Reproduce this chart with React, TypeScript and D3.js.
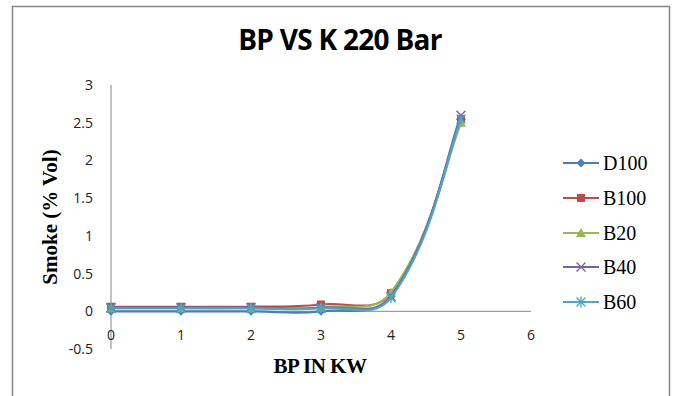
import React from "react";
import * as d3 from "d3";

const xValues = [0, 1, 2, 3, 4, 5];
const seriesNames = ["D100", "B100", "B20", "B40", "B60"];
const D100 = [0, 0, 0, 0, 0.2, 2.55];
const B100 = [0.06, 0.06, 0.06, 0.09, 0.24, 2.55];
const B20 = [0.04, 0.04, 0.04, 0.05, 0.25, 2.5];
const B40 = [0.05, 0.05, 0.05, 0.05, 0.2, 2.6];
const B60 = [0.04, 0.04, 0.04, 0.04, 0.18, 2.55];
const seriesValues = [D100, B100, B20, B40, B60];
const colors = ["#4A7EBB", "#BE4B48", "#98B954", "#7D60A0", "#46AAC5"];
const yTicks = [-0.5, 0, 0.5, 1, 1.5, 2, 2.5, 3];
const xTicks = [0, 1, 2, 3, 4, 5, 6];

const W = 674;
const H = 396;

// Excel-like smoothed line: Bezier with distance-weighted cardinal tangents
function smoothPath(pts: [number, number][]): string {
  const p = d3.path();
  const n = pts.length;
  if (n === 0) return "";
  p.moveTo(pts[0][0], pts[0][1]);
  const dist = (a: [number, number], b: [number, number]) => Math.hypot(b[0] - a[0], b[1] - a[1]);
  const t = 0.42;
  for (let i = 0; i < n - 1; i++) {
    const p0 = pts[Math.max(0, i - 1)];
    const p1 = pts[i];
    const p2 = pts[i + 1];
    const p3 = pts[Math.min(n - 1, i + 2)];
    const d01 = dist(p0, p1);
    const d12 = dist(p1, p2);
    const d23 = dist(p2, p3);
    const first = i === 0;
    const last = i + 2 > n - 1;
    const fa = first ? t * 0.5 : (t * d12) / (d01 + d12);
    const fb = last ? t * 0.5 : (t * d12) / (d12 + d23);
    const c1x = p1[0] + (p2[0] - p0[0]) * fa;
    const c1y = p1[1] + (p2[1] - p0[1]) * fa;
    const c2x = p2[0] - (p3[0] - p1[0]) * fb;
    const c2y = p2[1] - (p3[1] - p1[1]) * fb;
    p.bezierCurveTo(c1x, c1y, c2x, c2y, p2[0], p2[1]);
  }
  return p.toString();
}

function Marker({ type, x, y, color }: { type: number; x: number; y: number; color: string }) {
  if (type === 0) {
    const s = 4.5;
    return <path d={`M${x},${y - s}L${x + s},${y}L${x},${y + s}L${x - s},${y}Z`} fill={color} />;
  }
  if (type === 1) {
    return <rect x={x - 4} y={y - 4} width={8} height={8} fill={color} />;
  }
  if (type === 2) {
    const s = 5;
    return <path d={`M${x},${y - s}L${x + s},${y + s * 0.8}L${x - s},${y + s * 0.8}Z`} fill={color} />;
  }
  if (type === 3) {
    const s = 4.5;
    return (
      <path d={`M${x - s},${y - s}L${x + s},${y + s}M${x + s},${y - s}L${x - s},${y + s}`} stroke={color} strokeWidth={1.3} fill="none" />
    );
  }
  const s = 4.5;
  return (
    <path
      d={`M${x - s},${y - s}L${x + s},${y + s}M${x + s},${y - s}L${x - s},${y + s}M${x},${y - s - 1}L${x},${y + s + 1}`}
      stroke={color}
      strokeWidth={1.3}
      fill="none"
    />
  );
}

export default function App() {
  const x = d3.scaleLinear().domain([0, 6]).range([111, 531]);
  const y = d3.scaleLinear().domain([-0.5, 3]).range([349, 85]);

  const legendY = [163, 198, 233, 267, 302];

  return (
    <svg width={W} height={H} style={{ position: "absolute", left: 0, top: 0 }}>
      <rect x={0} y={0} width={W} height={H} fill="#fff" />
      <path d={`M12.5,${H}V6.5H669.5V${H}`} fill="none" stroke="#868686" strokeWidth={1.5} />
      <text x={340} y={50} textAnchor="middle" fontFamily="'Open Sans', sans-serif" fontWeight="bold" fontSize={28} fill="#000" letterSpacing={-0.7}>
        BP VS K 220 Bar
      </text>
      {/* axes */}
      <line x1={x(0)} x2={x(0)} y1={y(3)} y2={y(-0.5)} stroke="#868686" strokeWidth={1} />
      <line x1={x(0)} x2={x(6)} y1={y(0)} y2={y(0)} stroke="#868686" strokeWidth={1} />
      {yTicks.map((t) => (
        <text key={t} x={93} y={y(t) + 5} textAnchor="end" fontFamily="'Open Sans', sans-serif" fontSize={14} fill="#222">
          {t}
        </text>
      ))}
      {xTicks.map((t) => (
        <text key={t} x={x(t)} y={340} textAnchor="middle" fontFamily="'Open Sans', sans-serif" fontSize={14} fill="#222">
          {t}
        </text>
      ))}
      <text
        transform={`translate(57,${217}) rotate(-90)`}
        textAnchor="middle"
        fontFamily="'Liberation Serif', 'Times New Roman', serif"
        fontWeight="bold"
        fontSize={21}
        fill="#000"
      >
        Smoke (% Vol)
      </text>
      <text x={320} y={373} textAnchor="middle" fontFamily="'Liberation Serif', 'Times New Roman', serif" fontWeight="bold" fontSize={21} fill="#000" letterSpacing={-0.5}>
        BP IN KW
      </text>
      {/* series */}
      {seriesValues.map((vals, si) => (
        <g key={seriesNames[si]}>
          <path
            d={smoothPath(vals.map((v, i) => [x(xValues[i]), y(v)] as [number, number]))}
            fill="none"
            stroke={colors[si]}
            strokeWidth={2.2}
          />
          {vals.map((v, i) => (
            <Marker key={i} type={si} x={x(xValues[i])} y={y(v)} color={colors[si]} />
          ))}
        </g>
      ))}
      {/* legend */}
      {seriesNames.map((n, i) => (
        <g key={n}>
          <line x1={563} x2={599} y1={legendY[i]} y2={legendY[i]} stroke={colors[i]} strokeWidth={2} />
          <Marker type={i} x={581} y={legendY[i]} color={colors[i]} />
          <text x={603} y={legendY[i] + 7} fontFamily="'Liberation Serif', 'Times New Roman', serif" fontSize={20} fill="#000">
            {n}
          </text>
        </g>
      ))}
    </svg>
  );
}
